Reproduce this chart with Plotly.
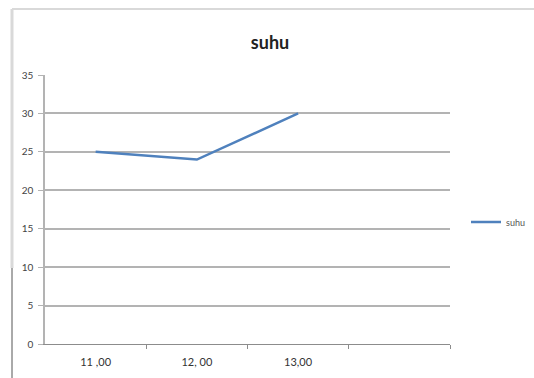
import plotly.graph_objects as go

# Temperature readings ("suhu") by time of day
categories = ["11 ,00", "12, 00", "13,00", ""]
series_name = "suhu"
suhu = [25, 24, 30]
y_ticks = [0, 5, 10, 15, 20, 25, 30, 35]

W, H = 534, 378
L, R, T, B = 45, 84, 75, 34
pw, ph = W - L - R, H - T - B

def px_x(x):
    return (x - L) / pw

def px_y(y):
    return (H - B - y) / ph

positions = list(range(1, len(categories) + 1))

fig = go.Figure()
fig.add_trace(go.Scatter(
    x=positions[:len(suhu)], y=suhu, mode="lines", name=series_name,
    line=dict(color="#4F81BD", width=2.5),
))
# invisible trace carrying the boundary tick axis
fig.add_trace(go.Scatter(x=[positions[0]], y=[None], xaxis="x2", showlegend=False,
                         hoverinfo="skip"))

grid = "#b3b3b3"
fig.update_layout(
    width=W, height=H,
    margin=dict(l=L, r=R, t=T, b=B, autoexpand=False),
    paper_bgcolor="white", plot_bgcolor="white",
    font=dict(family="Lato, 'Open Sans', sans-serif", color="#333333"),
    title=dict(text="<b>suhu</b>", x=270 / W, xref="container", xanchor="center",
               y=1 - 43 / H, yref="container", yanchor="middle",
               font=dict(size=18, color="#222222")),
    xaxis=dict(range=[0.5, len(categories) + 0.5], tickvals=positions[:3],
               ticktext=categories[:3], ticks="", showgrid=False, zeroline=False,
               showline=True, linecolor="#8c8c8c", linewidth=1,
               ticklabelstandoff=8,
               tickfont=dict(size=11, color="#333333")),
    xaxis2=dict(overlaying="x", matches="x", side="bottom",
                tickvals=[p + 0.5 for p in positions], showticklabels=False,
                ticks="outside", ticklen=4, tickcolor="#8c8c8c", showgrid=False,
                zeroline=False, showline=False),
    yaxis=dict(range=[0, 35], tickvals=y_ticks, ticks="outside", ticklen=5,
               tickcolor=grid, showgrid=True, gridcolor=grid, gridwidth=1.5,
               zeroline=False, showline=True, linecolor=grid, linewidth=1.5,
               ticklabelstandoff=3,
               tickfont=dict(size=10, color="#444444")),
    showlegend=True,
    legend=dict(x=px_x(466), y=px_y(222), xanchor="left", yanchor="middle",
                font=dict(size=9, color="#555555"), itemwidth=30,
                bgcolor="rgba(0,0,0,0)"),
    shapes=[
        # chart frame
        dict(type="line", xref="paper", yref="paper", x0=px_x(12), x1=px_x(540),
             y0=px_y(9), y1=px_y(9), line=dict(color="#d9d9d9", width=2)),
        dict(type="line", xref="paper", yref="paper", x0=px_x(12), x1=px_x(12),
             y0=px_y(9), y1=px_y(268), line=dict(color="#d9d9d9", width=3)),
        dict(type="line", xref="paper", yref="paper", x0=px_x(12), x1=px_x(12),
             y0=px_y(268), y1=px_y(380), line=dict(color="#555555", width=1)),
    ],
)

fig.write_html("out.html")
